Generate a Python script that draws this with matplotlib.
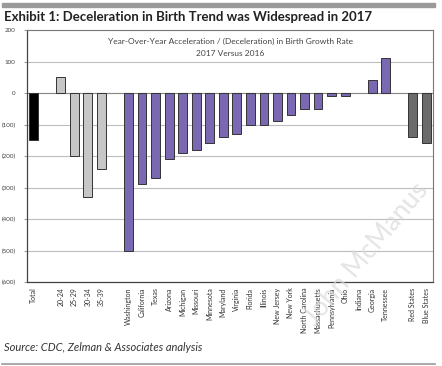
import matplotlib.pyplot as plt
import numpy as np

# categories ("" = spacer slot)
labels = ["Total", "", "20-24", "25-29", "30-34", "35-39", "",
          "Washington", "California", "Texas", "Arizona", "Michigan", "Missouri",
          "Minnesota", "Maryland", "Virginia", "Florida", "Illinois", "New Jersey",
          "New York", "North Carolina", "Massachusetts", "Pennsylvania", "Ohio",
          "Indiana", "Georgia", "Tennessee", "", "Red States", "Blue States"]
values = [-150, np.nan, 50, -200, -330, -240, np.nan,
          -500, -290, -270, -210, -190, -180,
          -160, -140, -130, -100, -100, -90,
          -70, -50, -50, -10, -10,
          0, 40, 110, np.nan, -140, -160]
groups = ["total", None, "age", "age", "age", "age", None] + ["state"] * 20 + [None, "party", "party"]
group_colors = {"total": "#000000", "age": "#c6c6c6", "state": "#7b68b3", "party": "#6b6b6b"}
yticks = [200, 100, 0, -100, -200, -300, -400, -500, -600]

plt.rcParams["font.family"] = ["Lato", "DejaVu Sans"]

fig = plt.figure(figsize=(4.42, 3.66), dpi=100)
ax = fig.add_axes([0.061, 0.2295, 0.919, 0.6885])

x = np.arange(len(labels))
for i, (v, g) in enumerate(zip(values, groups)):
    if g is None or v == 0:
        continue
    ax.bar(i, v, width=0.65, color=group_colors[g], edgecolor="#333333", linewidth=0.7, zorder=3)

ax.set_xlim(-0.5, len(labels) - 0.5)
ax.set_ylim(-600, 200)
ax.set_yticks(yticks)
ax.set_yticklabels([str(t) if t >= 0 else "(%d)" % -t for t in yticks], fontsize=4.5, color="#444444")
ax.set_xticks(x)
ax.set_xticklabels(labels, rotation=90, fontsize=5, color="#333333")
ax.tick_params(axis="y", length=2, width=0.6, pad=6, colors="#888888", labelcolor="#444444")
ax.tick_params(axis="x", length=0, pad=4)
ax.yaxis.grid(True, color="#bdbdbd", linewidth=0.8, zorder=0)
ax.axhline(0, color="#888888", linewidth=0.8, zorder=2)
for s in ["top", "right"]:
    ax.spines[s].set_color("#777777")
    ax.spines[s].set_linewidth(0.8)
for s in ["left", "bottom"]:
    ax.spines[s].set_color("#444444")
    ax.spines[s].set_linewidth(0.9)

ax.text(0.5, 0.955, "Year-Over-Year Acceleration / (Deceleration) in Birth Growth Rate",
        transform=ax.transAxes, ha="center", va="center", fontsize=6, color="#444444")
ax.text(0.5, 0.905, "2017 Versus 2016", transform=ax.transAxes,
        ha="center", va="center", fontsize=6, color="#444444")

# header bar, title, footer
fig.patches.append(plt.Rectangle((0.005, 0.981), 0.98, 0.011, transform=fig.transFigure,
                                 color="#9a9a9a", zorder=0))
fig.text(0.008, 0.953, "Exhibit 1: Deceleration in Birth Trend was Widespread in 2017",
         fontsize=9.5, fontweight="bold", color="#222222", va="center")
fig.text(0.008, 0.05, "Source: CDC, Zelman & Associates analysis",
         fontsize=8, style="italic", color="#333333", va="center")
fig.lines.append(plt.Line2D([0.005, 0.985], [0.006, 0.006], transform=fig.transFigure,
                            color="#9a9a9a", linewidth=1.2))

# watermark
fig.text(0.83, 0.305, "John McManus", rotation=50, fontsize=19, color="#d9d9d9",
         alpha=0.7, ha="center", va="center", zorder=10)

fig.savefig("out.png", dpi=100)
